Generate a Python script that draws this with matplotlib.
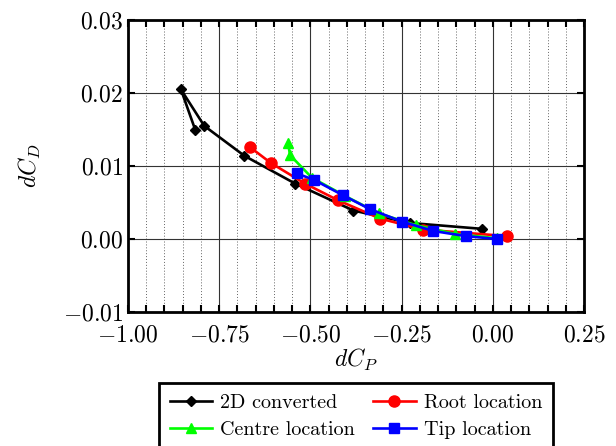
import matplotlib
matplotlib.use("Agg")
import matplotlib.pyplot as plt
from matplotlib.ticker import MultipleLocator, ScalarFormatter

# ---------------------------------------------------------------------------
# Data
# ---------------------------------------------------------------------------
conv_cp = [-0.816, -0.855, -0.791, -0.681, -0.542, -0.382, -0.228, -0.031]
conv_cd = [0.0150, 0.0205, 0.0155, 0.0114, 0.0076, 0.0039, 0.0022, 0.0014]

root_cp = [-0.666, -0.608, -0.515, -0.424, -0.309, -0.191, 0.038]
root_cd = [0.0126, 0.0104, 0.0076, 0.0053, 0.0028, 0.0013, 0.0004]

centre_cp = [-0.561, -0.556, -0.496, -0.405, -0.312, -0.211, -0.104, 0.011]
centre_cd = [0.0131, 0.0115, 0.0084, 0.0059, 0.0035, 0.0019, 0.0007, 0.0001]

tip_cp = [-0.538, -0.490, -0.411, -0.337, -0.250, -0.163, -0.074, 0.011]
tip_cd = [0.0090, 0.0081, 0.0060, 0.0041, 0.0024, 0.0011, 0.0004, 0.0000]

# ---------------------------------------------------------------------------
# Style
# ---------------------------------------------------------------------------
plt.rcParams["font.family"] = "serif"
plt.rcParams["font.serif"] = ["cmr10"]
plt.rcParams["mathtext.fontset"] = "cm"
plt.rcParams["axes.formatter.use_mathtext"] = True
plt.rcParams["axes.unicode_minus"] = True

fig = plt.figure(figsize=(6.16, 4.46), dpi=100)
ax = fig.add_axes([0.2078, 0.3004, 0.7403, 0.6547])

lw = 1.9
h_conv, = ax.plot(conv_cp, conv_cd, color="black", marker="D", markersize=5.5, lw=lw, label="2D converted")
h_root, = ax.plot(root_cp, root_cd, color="red", marker="o", markersize=8, lw=lw, label="Root location")
h_cent, = ax.plot(centre_cp, centre_cd, color="#00ff00", marker="^", markersize=7.5, lw=lw, label="Centre location")
h_tip, = ax.plot(tip_cp, tip_cd, color="blue", marker="s", markersize=7.5, lw=lw, label="Tip location")

ax.set_xlim(-1.0, 0.25)
ax.set_ylim(-0.01, 0.03)
ax.xaxis.set_major_locator(MultipleLocator(0.25))
ax.xaxis.set_minor_locator(MultipleLocator(0.05))
ax.yaxis.set_major_locator(MultipleLocator(0.01))
ax.xaxis.set_major_formatter(ScalarFormatter())
ax.yaxis.set_major_formatter(ScalarFormatter())

ax.grid(which="major", color="#333333", lw=0.8, ls="-")
ax.grid(which="minor", axis="x", color="#666666", lw=0.7, ls=(0, (1, 2)))
ax.set_axisbelow(True)

ax.tick_params(which="both", direction="in", top=True, right=True, labelsize=17)
ax.tick_params(which="major", length=5, width=1.5)
ax.tick_params(which="minor", length=5, width=1.5)
ax.tick_params(axis="x", pad=9)
for s in ax.spines.values():
    s.set_linewidth(2)

ax.set_xlabel(r"$dC_P$", fontsize=17, labelpad=0)
ax.set_ylabel(r"$dC_D$", fontsize=17, labelpad=14)

# legend filled row-wise like the reference
leg = ax.legend([h_conv, h_cent, h_root, h_tip],
                ["2D converted", "Centre location", "Root location", "Tip location"],
                loc="upper center", bbox_to_anchor=(0.5, -0.243), ncol=2,
                fontsize=14.5, frameon=True, fancybox=False, framealpha=1,
                edgecolor="black", borderaxespad=0, handlelength=2.1,
                columnspacing=0.9, labelspacing=0.42, handletextpad=0.4,
                borderpad=0.55)
leg.get_frame().set_linewidth(2)

fig.savefig("out.png", dpi=100)
